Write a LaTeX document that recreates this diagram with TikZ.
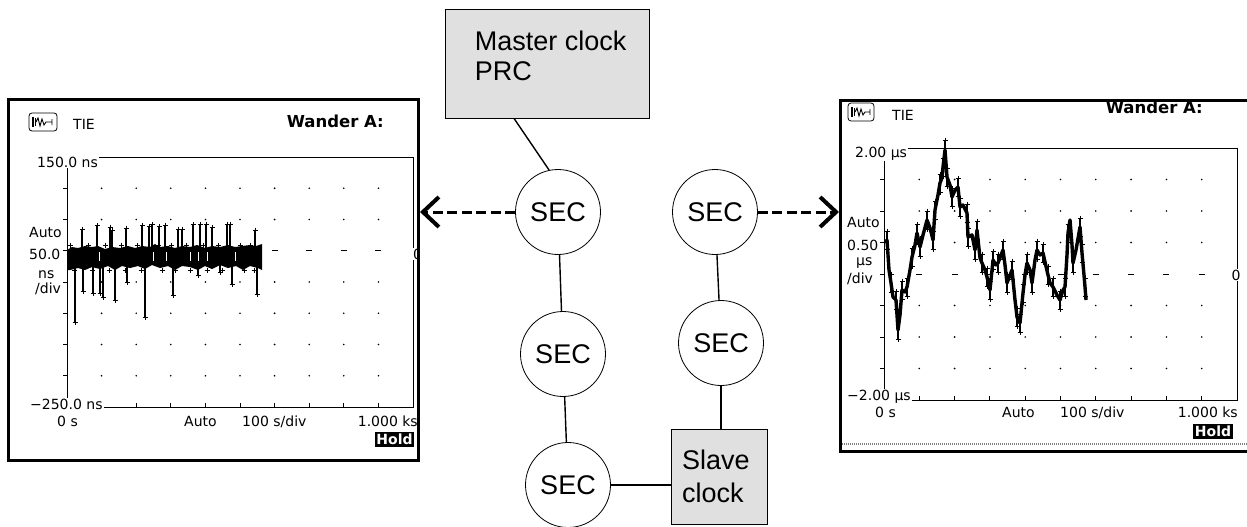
\documentclass[tikz,border=0pt]{standalone}
\usepackage{fontspec}
\setmainfont{Liberation Sans}
\newfontfamily\scrfont{DejaVu Sans}
\usetikzlibrary{arrows.meta}
\tikzset{
 sec/.style={circle, draw, line width=0.8pt, minimum size=85pt, inner sep=0pt, font=\fontsize{27}{30}\selectfont},
 clockbox/.style={draw, line width=0.8pt, fill=black!12},
 link/.style={line width=1.4pt},
 probe/.style={line width=3pt, dash pattern=on 10pt off 4.5pt, -{Straight Barb[length=16pt,width=30pt,line width=4pt]}},
 frame/.style={line width=3pt},
 scr/.style={font=\scrfont\fontsize{14}{15}\selectfont, inner sep=0pt},
 mask/.style={fill=white, inner xsep=1pt, inner ysep=1pt},
 ttl/.style={font=\scrfont\bfseries\fontsize{16.5}{18}\selectfont, inner sep=0pt},
 hold/.style={fill=black, text=white, font=\scrfont\bfseries\fontsize{14}{15}\selectfont, inner xsep=1.5pt, inner ysep=1pt, minimum height=15pt},
 axis/.style={line width=1pt},
 trace/.style={line width=1.3pt},
 tiny/.style={line width=0.9pt},
}
\newcommand{\pmark}[2]{\draw[tiny] (#1-2.5,#2)--(#1+2.5,#2) (#1,#2-2.5)--(#1,#2+2.5);}
\begin{document}
\begin{tikzpicture}[x=1pt,y=-1pt]
\clip (0,0) rectangle (1247,527);
\fill[white] (0,0) rectangle (1247,527);

% ---------------- left screen ----------------
\foreach \i in {1,...,9}{
  \foreach \j in {1,2,4,5,6,7}{\fill ({67+\i*34.6},{157+\j*31.25}) circle (0.9pt);}
  \draw[axis] ({67+\i*34.6-3},250.75) -- ({67+\i*34.6+3},250.75);
  \draw[axis] ({67+\i*34.6},407) -- ({67+\i*34.6},403);
}
\foreach \j in {1,...,7}{\draw[axis] (63,{157+\j*31.25}) -- (67,{157+\j*31.25});}
\draw[axis] (67,157) -- (413,157) -- (413,407) -- (67,407) -- cycle;
% trace band
\fill (67,250) -- (72,247) -- (78,248) -- (85,246) -- (92,247) -- (98,246) -- (105,249) -- (112,247) -- (120,248) -- (128,246) -- (135,248) -- (142,246) -- (150,247) -- (155,244) -- (160,247) -- (168,246) -- (175,248) -- (182,246) -- (190,247) -- (197,245) -- (205,248) -- (212,246) -- (220,247) -- (228,245) -- (235,247) -- (242,246) -- (250,245) -- (256,246) -- (262,244)
 -- (262,270) -- (258,268) -- (250,266) -- (243,270) -- (236,266) -- (228,268) -- (220,265) -- (212,269) -- (205,266) -- (198,270) -- (190,267) -- (182,266) -- (175,270) -- (168,266) -- (160,268) -- (152,265) -- (145,269) -- (138,266) -- (130,268) -- (122,266) -- (115,270) -- (108,266) -- (100,269) -- (92,267) -- (85,270) -- (78,268) -- (70,270) -- (67,270) -- cycle;
\foreach \x in {99,153,166,190,198,207,235}{\draw[white, line width=1pt] (\x,252) -- (\x,261);}
\foreach \x/\y in {82/229,97/225,110/227,112/230,126/228,142/225,149/226,152/224,159/226,165/225,178/229,182/229,193/224,200/224,206/224,212/227,227/224,230/224,255/230}{
  \draw[trace] (\x,250) -- (\x,\y); \pmark{\x}{\y}}
\foreach \x/\y in {75/322,83/291,93/293,100/293,103/297,115/300,127/282,145/317,173/295,198/275,220/272,232/284,257/294}{
  \draw[trace] (\x,265) -- (\x,\y); \pmark{\x}{\y}}
\foreach \x in {70,88,105,121,137,158,171,186,203,218,240,250}{\pmark{\x}{245}\pmark{\x+4}{270}}
% labels
\begin{scope}[shift={(29,113)}]
  \draw[line width=0.8pt, rounded corners=3pt] (0,0) rectangle (28,18);
  \draw[tiny] (3,4)--(3,14) (4.5,4)--(4.5,14) (6,5)--(6,13);
  \draw[tiny] (7,9)--(9,5)--(11,13)--(13,6)--(15,12)--(17,9)--(23,9) (23,6)--(23,12);
\end{scope}
\node[scr, anchor=base west] (ltie) at (73,129) {TIE};
\node[ttl, anchor=base east] (lwander) at (384,127) {Wander A:};
\node[scr, mask, anchor=base west] (ltop) at (36,167) {150.0 ns};
\node[scr, anchor=base west] (lauto) at (29,237) {Auto};
\node[scr, anchor=base west] (lscale) at (29,259) {50.0};
\node[scr, anchor=base west] (lunit) at (38,278) {ns};
\node[scr, anchor=base west] (ldiv) at (35,293) {/div};
\node[scr, mask, anchor=base west] (lbot) at (29,409) {−250.0 ns};
\node[scr, anchor=base west] (lzero) at (57,426) {0 s};
\node[scr, anchor=base west] (lauto2) at (184,426) {Auto};
\node[scr, anchor=base west] (ltime) at (242,426) {100 s/div};
\node[scr, anchor=base east] (lend) at (418,426) {1.000 ks};
\node[hold] (lhold) at (394.5,439.5) {Hold};
\begin{scope}
  \clip (9,100) rectangle (417,459);
  \node[scr, mask, anchor=base west] (lz) at (412,259) {0};
\end{scope}
\draw[frame] (8,99) rectangle (418,460);

% ---------------- right screen ----------------
\foreach \i in {1,...,9}{
  \foreach \j in {1,2,3,5,6,7}{\fill ({884+\i*35.3},{148+\j*31.5}) circle (0.9pt);}
  \draw[axis] ({884+\i*35.3-3},274) -- ({884+\i*35.3+3},274);
  \draw[axis] ({884+\i*35.3},400) -- ({884+\i*35.3},396);
}
\foreach \j in {1,...,7}{\draw[axis] (880,{148+\j*31.5}) -- (884,{148+\j*31.5});}
\draw[axis] (884,148) -- (1237,148) -- (1237,400) -- (884,400) -- cycle;
% trace
\draw[line width=3.4pt, line join=round] plot coordinates {(885,243) (887,240) (889,270) (891,283) (893,297) (896,300) (898,330) (900,315) (902,290) (905,292) (907,287) (910,270) (912,257) (915,245) (917,233) (920,247) (923,235) (927,220) (930,228) (933,240) (935,210) (938,195) (940,183) (942,178) (943,167) (945,150) (947,177) (950,185) (952,197) (955,190) (958,187) (960,207) (963,205) (967,213) (968,237) (972,235) (975,250) (977,230) (980,258) (982,263) (985,270) (987,277) (990,290) (993,260) (996,265) (998,263) (1001,255) (1003,250) (1005,265) (1007,283) (1010,275) (1012,270) (1015,300) (1017,317) (1020,323) (1023,293) (1025,275) (1027,263) (1030,270) (1032,283) (1035,260) (1037,250) (1040,255) (1043,253) (1045,262) (1048,275) (1050,283) (1053,287) (1057,295) (1060,300) (1063,290) (1065,287) (1067,255) (1068,233) (1070,220) (1072,245) (1073,263) (1076,250) (1080,227) (1082,253) (1084,275) (1085,287) (1086,300)};
\foreach \x/\y in {887/240,891/283,896/300,898/330,902/290,907/287,912/257,917/233,920/247,927/220,933/240,935/210,940/183,943/167,947/177,952/197,958/187,960/207,967/213,968/237,975/250,977/230,982/263,987/277,990/290,993/260,998/263,1003/250,1007/283,1012/270,1017/317,1020/323,1023/293,1027/263,1032/283,1037/250,1043/253,1048/275,1053/287,1060/300,1065/287,1068/233,1073/263,1080/227,1082/253,1085/287}{
  \draw[trace] (\x,\y-9) -- (\x,\y+9); \pmark{\x}{\y-9}\pmark{\x}{\y+9}}
\draw[trace] (945,150) -- (945,140); \pmark{945}{140}
% labels
\begin{scope}[shift={(848,103)}]
  \draw[line width=0.8pt, rounded corners=3pt] (0,0) rectangle (26,18);
  \draw[tiny] (3,4)--(3,14) (4.5,4)--(4.5,14) (6,5)--(6,13);
  \draw[tiny] (7,9)--(9,5)--(11,13)--(13,6)--(15,12)--(17,9)--(22,9) (22,6)--(22,12);
\end{scope}
\node[scr, anchor=base west] (rtie) at (892,120) {TIE};
\node[ttl, anchor=base east] (rwander) at (1203,113) {Wander A:};
\node[scr, mask, anchor=base west] (rtop) at (854,157) {2.00 µs};
\node[scr, anchor=base west] (rauto) at (847,227) {Auto};
\node[scr, anchor=base west] (rscale) at (847,250) {0.50};
\node[scr, anchor=base west] (runit) at (856,265) {µs};
\node[scr, anchor=base west] (rdiv) at (847,283) {/div};
\node[scr, mask, anchor=base] (rz) at (1236,280) {0};
\node[scr, mask, anchor=base west] (rbot) at (846,400) {−2.00 µs};
\node[scr, anchor=base west] (rzero) at (875,417) {0 s};
\node[scr, anchor=base west] (rauto2) at (1002,417) {Auto};
\node[scr, anchor=base west] (rtime) at (1060,417) {100 s/div};
\node[scr, anchor=base east] (rend) at (1238,417) {1.000 ks};
\node[hold] (rhold) at (1213,431) {Hold};
\draw[gray, line width=1.5pt, dash pattern=on 1pt off 1pt] (842,444) -- (1247,444);
\draw[frame] (840,100) rectangle (1260,451);

% ---------------- network ----------------
\node[clockbox, minimum width=204pt, minimum height=109pt] (master) at (547,63.5) {};
\node[anchor=north west, align=left, inner sep=0pt, font=\fontsize{27}{30}\selectfont] (mastertext) at ([xshift=30pt,yshift=-22pt]master.north west) {Master clock\\PRC};
\node[sec] (sec1) at (558,212) {SEC};
\node[sec] (sec2) at (715,212) {SEC};
\node[sec] (sec3) at (563,354) {SEC};
\node[sec] (sec4) at (721,343) {SEC};
\node[sec] (sec5) at (568,485) {SEC};
\node[clockbox, minimum width=96pt, minimum height=95pt, text width=74pt, inner xsep=11pt, align=left, font=\fontsize{27}{33}\selectfont] (slave) at (719,476.5) {Slave\\clock};

\coordinate (tipL) at (420,212);
\coordinate (tipR) at (839,212);
\draw[link] ([xshift=-33pt]master.south) -- (sec1.102);
\draw[link] (sec1) -- (sec3);
\draw[link] (sec3) -- (sec5);
\draw[link] (sec2) -- (sec4);
\draw[link] (sec4) -- (sec4 |- slave.north);
\draw[link] (sec5) -- (sec5 -| slave.west);
\draw[probe] (sec1) -- (tipL);
\draw[probe] (sec2) -- (tipR);
\end{tikzpicture}
\end{document}
